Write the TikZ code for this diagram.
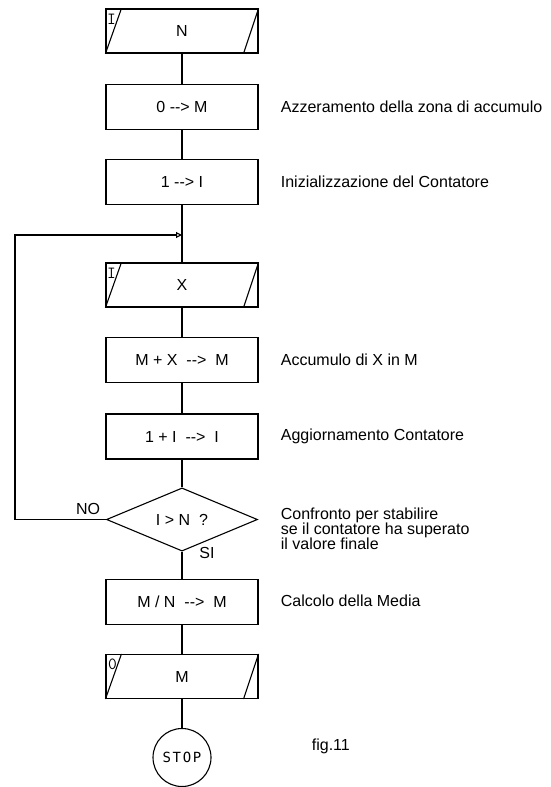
\documentclass[tikz,border=0pt]{standalone}
\usepackage{fontspec}
\setmainfont{Liberation Sans}
\newfontfamily\stopfont[LetterSpace=12]{DejaVu Sans Mono}
\usetikzlibrary{shapes.geometric,arrows.meta,calc}
% arrow written as two hyphens and a greater-than sign
\newcommand{\toarrow}{-{}-{}>}

\begin{document}
\begin{tikzpicture}[x=1pt,y=-1pt,line width=1.1pt,
  every node/.style={font=\fontsize{16}{15}\selectfont},
  procbox/.style={draw,rectangle,minimum width=152pt,minimum height=45pt,inner sep=0pt},
  iobox/.style={rectangle,draw,minimum width=152pt,minimum height=44pt,inner sep=0pt},
  decbox/.style={diamond,draw,minimum width=151pt,minimum height=61pt,inner sep=0pt},
  termbox/.style={circle,draw,minimum size=58pt,inner sep=0pt},
  note/.style={anchor=west,align=left},
  corner/.style={font=\ttfamily\fontsize{17}{17}\selectfont,inner sep=0pt},
  flow/.style={draw},
  back/.style={draw,-{Triangle[open,length=6pt,width=6pt]}}]

\useasboundingbox (0,0) rectangle (550,787);

% main column
\node[iobox]   (inN)   at (182,31)    {N};
\node[procbox] (zero)  at (182,107)   {0 \toarrow{} M};
\node[procbox] (init)  at (182,182)   {1 \toarrow{} I};
\coordinate    (join)  at (182,235);
\node[iobox]   (inX)   at (182,285)   {X};
\node[procbox] (acc)   at (182,360)   {M + X~ \toarrow~ M};
\node[procbox] (incr)  at (182,436.5) {1 + I~ \toarrow~ I};
\node[decbox]  (test)  at (182,519.5) {I > N~ ?};
\node[procbox] (avg)   at (182,602)   {M / N~ \toarrow~ M};
\node[iobox]   (outM)  at (182,676.5) {M};
\node[termbox] (stop)  at (182,757.5) {\stopfont\fontsize{14}{14}\selectfont STOP};

% slanted sides of the input/output blocks
\foreach \b in {inN,inX,outM}{
  \draw ($(\b.north west)+(16,0)$) -- (\b.south west);
  \draw (\b.north east) -- ($(\b.south east)+(-15,0)$);
}
\node[corner] (modeN) at (111.5,19)  {I};
\node[corner] (modeX) at (111.5,273) {I};
\node[corner] (modeM) at (112.5,664) {0};

% connectors
\draw[flow] (inN) -- (zero);
\draw[flow] (zero) -- (init);
\draw[flow] (init) -- (inX);
\draw[flow] (inX) -- (acc);
\draw[flow] (acc) -- (incr);
\draw[flow] (incr) -- (test);
\draw[flow] (test) -- (avg);
\draw[flow] (avg) -- (outM);
\draw[flow] (outM) -- (stop);

% loop back to the counter test
\coordinate (loopcorner) at (15,519.5);
\draw[back] (test.west) -- (loopcorner) |- (join);

\node (no) at (88,509) {NO};
\node (si) at (207,553) {SI};

% comments on the right
\node[note] (c1) at (277,107)   {Azzeramento della zona di accumulo};
\node[note] (c2) at (277,182)   {Inizializzazione del Contatore};
\node[note] (c3) at (277,360)   {Accumulo di X in M};
\node[note] (c4) at (277,436.5) {Aggiornamento Contatore};
\node[note] (c5) at (277,528.5) {Confronto per stabilire\\se il contatore ha superato\\il valore finale};
\node[note] (c6) at (277,601)   {Calcolo della Media};
\node[note] (fig) at (308,746)  {fig.11};
\end{tikzpicture}
\end{document}
